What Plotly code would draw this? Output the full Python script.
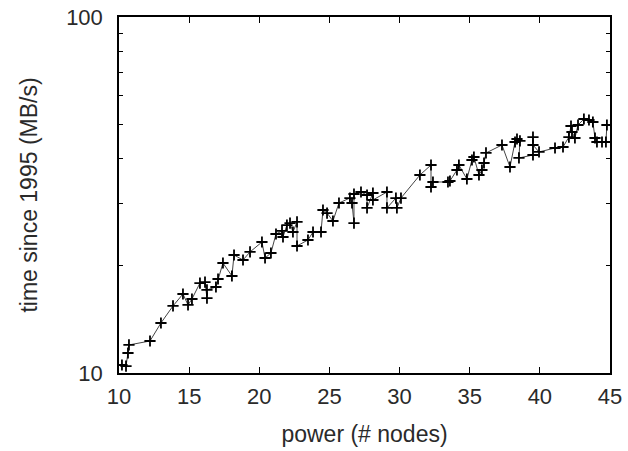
import plotly.graph_objects as go

# power (# nodes)
power = [10.21, 10.50, 10.64, 10.71, 12.21, 12.99, 13.85, 14.56, 14.92, 15.20,
         15.77, 16.13, 16.27, 16.27, 16.91, 17.06, 17.41, 18.05, 18.20, 18.84,
         19.34, 20.19, 20.41, 20.83, 21.19, 21.62, 21.69, 21.97, 22.19, 22.40,
         22.69, 22.69, 23.47, 23.83, 24.40, 24.54, 24.83, 25.25, 25.68, 26.46,
         26.61, 26.75, 26.75, 27.25, 27.68, 27.68, 28.10, 28.10, 29.10, 29.10,
         29.74, 29.81, 30.10, 31.45, 32.24, 32.24, 32.38, 33.45, 33.59, 34.09,
         34.23, 34.80, 35.16, 35.30, 35.66, 35.87, 36.02, 36.16, 37.30, 37.87,
         38.23, 38.37, 38.58, 38.51, 39.51, 39.51, 39.51, 39.94, 41.08, 41.65,
         42.07, 42.22, 42.29, 42.50, 42.72, 43.14, 43.50, 43.78, 43.93, 44.07,
         44.43, 44.71, 44.78]

# time since 1995 (MB/s)
rate = [10.53, 10.46, 11.38, 11.99, 12.30, 13.82, 15.43, 16.67, 15.53, 16.14,
        17.89, 18.01, 16.24, 17.11, 17.44, 18.37, 20.37, 18.73, 21.45, 20.77,
        21.88, 23.33, 21.04, 21.73, 24.57, 25.06, 24.10, 26.04, 26.38, 24.89,
        26.56, 22.74, 23.64, 24.89, 24.89, 28.70, 28.14, 26.73, 30.03, 31.01,
        30.03, 26.38, 31.83, 32.24, 31.62, 29.08, 32.03, 30.62, 32.24, 29.08,
        31.01, 29.08, 31.01, 35.99, 38.39, 33.30, 34.40, 34.40, 34.62, 37.17,
        38.39, 35.07, 39.66, 40.44, 35.99, 37.17, 38.90, 41.50, 43.70, 37.90,
        44.56, 45.43, 44.85, 40.18, 40.96, 46.00, 43.70, 41.77, 42.86, 43.14,
        46.00, 49.41, 47.53, 45.72, 49.73, 51.70, 51.36, 50.70, 45.72, 44.56,
        44.56, 44.56, 49.73]

x_ticks = [10, 15, 20, 25, 30, 35, 40, 45]
y_ticks = [10, 100]
y_minor = [20, 30, 40, 50, 60, 70, 80, 90]

font_family = "Liberation Sans, Arial, sans-serif"
text_color = "#2a2a2a"

fig = go.Figure()
fig.add_trace(go.Scatter(
    x=power, y=rate, mode="lines+markers",
    line=dict(color="#444444", width=1),
    marker=dict(symbol="cross-thin", size=8, color="black",
                line=dict(color="black", width=1.8)),
    showlegend=False,
))

axis_common = dict(
    showline=True, linecolor="black", linewidth=1.5, mirror="ticks",
    ticks="inside", ticklen=6, tickcolor="black", tickwidth=1,
    showgrid=False, zeroline=False, automargin=False,
    tickfont=dict(family=font_family, size=22, color=text_color),
)

fig.update_layout(
    width=628, height=451,
    margin=dict(l=119, r=18, t=17, b=78),
    paper_bgcolor="white", plot_bgcolor="white",
    xaxis=dict(
        range=[10, 45], tickmode="array", tickvals=x_ticks,
        ticktext=[str(v) for v in x_ticks],
        title=dict(text="power (# nodes)", standoff=18,
                   font=dict(family=font_family, size=23, color=text_color)),
        ticklabelstandoff=3,
        **axis_common,
    ),
    yaxis=dict(
        type="log", range=[1, 2], tickmode="array", tickvals=y_ticks,
        ticktext=[str(v) for v in y_ticks],
        minor=dict(ticks="inside", tickvals=y_minor, ticklen=4,
                   tickcolor="black", tickwidth=1, showgrid=False),
        title=dict(text="time since 1995 (MB/s)", standoff=22,
                   font=dict(family=font_family, size=23, color=text_color)),
        ticklabelstandoff=10,
        **axis_common,
    ),
)

fig.write_html("out.html",
               config={"displayModeBar": False},
               post_script="document.body.style.margin='0';document.body.style.overflow='hidden';")
